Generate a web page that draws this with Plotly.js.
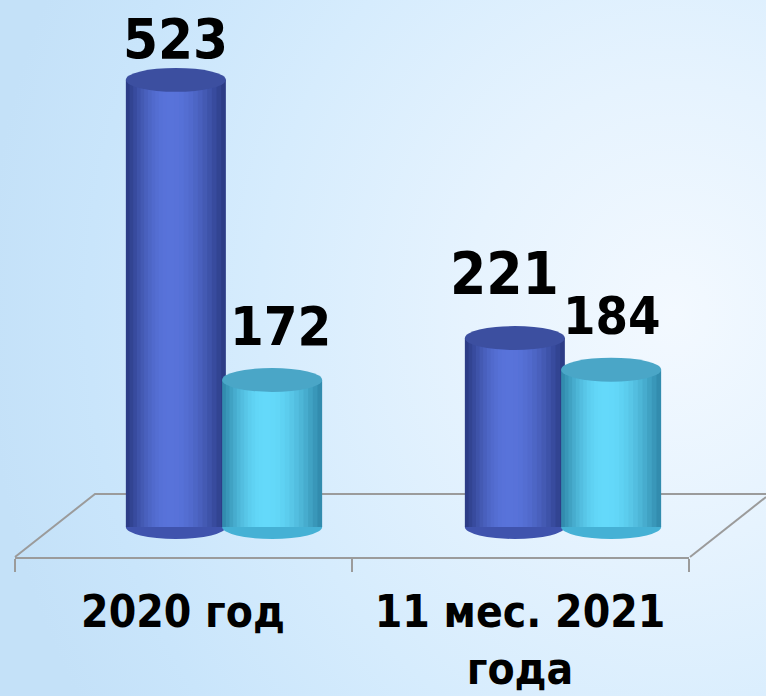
<!DOCTYPE html>
<html>
<head>
<meta charset="utf-8">
<script src="https://cdn.plot.ly/plotly-3.0.1.min.js"></script>
<style>
  html, body { margin: 0; padding: 0; }
  #wrap {
    width: 766px; height: 696px; overflow: hidden;
    background: radial-gradient(ellipse 90% 110% at 88% 45%, #f3f9ff 0%, #e6f3fe 30%, #d6ecfd 60%, #c9e5fb 85%, #c4e1f8 100%);
  }
  #chart { width: 766px; height: 696px; }
</style>
</head>
<body>
<div id="wrap"><div id="chart"></div></div>
<script>
// ---- data ----
const categories = ["2020 год", "11 мес. 2021 года"];
const tickLabels = ["2020 год", "11 мес. 2021<br>года"];
const seriesA = [523, 221];   // dark blue cylinders
const seriesB = [172, 184];   // light blue cylinders

// ---- styles ----
const FONT = '"DejaVu Sans Condensed", "Liberation Sans Narrow", "DejaVu Sans", sans-serif';
const W = 0.295;                 // cylinder width (category units)
const centerA = -0.142, centerB = 0.142;
const NL = 12;                   // shading layers per cylinder
const edgeA = [44, 60, 134], midA = [88, 115, 218];
const edgeB = [50, 140, 174], midB = [100, 217, 250];
const capA = '#3c4fa0', capB = '#4aa6c7';
const baseA = '#3f53ad', baseB = '#45b1d5';
const halfEll = 14;              // half-height of ellipses (y units)

function mix(a, b, t) {
  return 'rgb(' + a.map((v, k) => Math.round(v + (b[k] - v) * t)).join(',') + ')';
}

const traces = [];
function addCylinder(values, center, edge, mid) {
  for (let i = 0; i < NL; i++) {
    const f = 1 - i / NL;                       // width fraction
    const w = W * f;
    const c = center - 0.06 * W * (1 - f);
    const t = Math.sin((i / (NL - 1)) * Math.PI / 2);  // shading ramp
    traces.push({
      type: 'bar', x: categories, y: values, xaxis: 'x', yaxis: 'y',
      width: [w, w], offset: [c - w / 2, c - w / 2],
      marker: { color: mix(edge, mid, t), line: { width: 0 } },
      showlegend: false, hoverinfo: 'skip'
    });
  }
}
addCylinder(seriesA, centerA, edgeA, midA);
addCylinder(seriesB, centerB, edgeB, midB);

// invisible trace carrying the front axis with category labels
traces.push({
  type: 'scatter', mode: 'markers', x: tickLabels, y: [0, 0],
  xaxis: 'x2', yaxis: 'y', marker: { opacity: 0 }, showlegend: false, hoverinfo: 'skip'
});

// ellipse caps and bottoms derived from data
const shapes = [];
function ellipse(xc, y, color, layer) {
  return {
    type: 'circle', xref: 'x', yref: 'y', layer: layer,
    x0: xc - W / 2, x1: xc + W / 2, y0: y - halfEll, y1: y + halfEll,
    fillcolor: color, line: { width: 0 }
  };
}
// floor (decorative 3D plane)
const gray = '#9b9b9b';
shapes.push({ type: 'path', xref: 'paper', yref: 'paper', layer: 'below',
  path: `M ${15/766} 0 L ${95/766} ${63/557} L 1 ${63/557}`, line: { color: gray, width: 2 } });
shapes.push({ type: 'path', xref: 'paper', yref: 'paper', layer: 'below',
  path: `M ${690/766} 0 L 1 ${60/557}`, line: { color: gray, width: 2 } });

seriesA.forEach((v, i) => shapes.push(ellipse(i + centerA, 0, baseA, 'below')));
seriesB.forEach((v, i) => shapes.push(ellipse(i + centerB, 0, baseB, 'below')));
seriesA.forEach((v, i) => shapes.push(ellipse(i + centerA, v, capA, 'above')));
seriesB.forEach((v, i) => shapes.push(ellipse(i + centerB, v, capB, 'above')));

// value labels
const xshiftA = [0, -10], yshiftA = [41, 64], sizeA = [56, 58];
const xshiftB = [8, 1], yshiftB = [53, 54], sizeB = [54, 52];
const annotations = [];
seriesA.forEach((v, i) => annotations.push({
  xref: 'x', yref: 'y', x: i + centerA, y: v, text: String(v), showarrow: false,
  xanchor: 'center', yanchor: 'middle', xshift: xshiftA[i], yshift: yshiftA[i],
  font: { family: FONT, size: sizeA[i], color: '#000', weight: 'bold' }
}));
seriesB.forEach((v, i) => annotations.push({
  xref: 'x', yref: 'y', x: i + centerB, y: v, text: String(v), showarrow: false,
  xanchor: 'center', yanchor: 'middle', xshift: xshiftB[i], yshift: yshiftB[i],
  font: { family: FONT, size: sizeB[i], color: '#000', weight: 'bold' }
}));

const layout = {
  width: 766, height: 696,
  margin: { l: 0, r: 0, t: 0, b: 139, pad: 0 },
  paper_bgcolor: 'rgba(0,0,0,0)', plot_bgcolor: 'rgba(0,0,0,0)',
  barmode: 'overlay', hovermode: false, showlegend: false,
  xaxis: {
    domain: [54.5 / 766, 732.5 / 766], range: [-0.5, 1.5], type: 'category',
    categoryorder: 'array', categoryarray: categories,
    visible: false, fixedrange: true
  },
  xaxis2: {
    domain: [14.5 / 766, 688.5 / 766], range: [-0.5, 1.5], type: 'category',
    categoryorder: 'array', categoryarray: tickLabels,
    anchor: 'y', side: 'bottom',
    showline: true, linecolor: gray, linewidth: 2,
    ticks: 'outside', tickson: 'boundaries', ticklen: 13, tickcolor: gray, tickwidth: 2,
    ticklabelstandoff: 15,
    showgrid: false, zeroline: false,
    tickfont: { family: FONT, size: 44, color: '#000', weight: 'bold' },
    fixedrange: true
  },
  yaxis: {
    range: [-35.1, 616.4], visible: false, showgrid: false, zeroline: false, fixedrange: true
  },
  shapes: shapes,
  annotations: annotations,
  font: { family: FONT }
};

Plotly.newPlot('chart', traces, layout, { displayModeBar: false, staticPlot: true });
</script>
</body>
</html>
